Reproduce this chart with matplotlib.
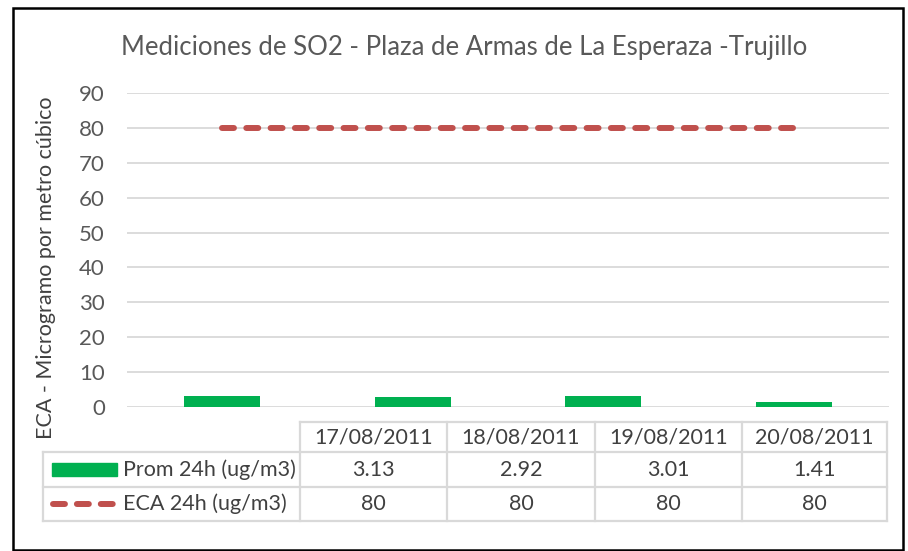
import matplotlib.pyplot as plt
from matplotlib.lines import Line2D
from matplotlib.patches import Rectangle

# datos
fechas = ['17/08/2011', '18/08/2011', '19/08/2011', '20/08/2011']
prom_24h = [3.13, 2.92, 3.01, 1.41]
eca_24h = [80, 80, 80, 80]
series = ['Prom 24h (ug/m3)', 'ECA 24h (ug/m3)']
yticks = [0, 10, 20, 30, 40, 50, 60, 70, 80, 90]

verde = '#00b050'
rojo = '#c0504d'
gris = '#595959'
rejilla = '#d9d9d9'

plt.rcParams['font.family'] = ['Lato', 'DejaVu Sans']

W, H = 908, 551
fig = plt.figure(figsize=(W / 100, H / 100), dpi=100)


def fx(px):
    return px / W


def fy(py):
    return 1 - py / H


# area del grafico
ax = fig.add_axes([fx(127), fy(407), fx(889) - fx(127), fy(93) - fy(407)])
x = list(range(len(fechas)))
ax.bar(x, prom_24h, width=0.4, color=verde, zorder=3)
ax.plot(x, eca_24h, color=rojo, lw=4.3, dashes=(2, 2.07),
        dash_capstyle='round', zorder=4)
ax.set_xlim(-0.5, len(fechas) - 0.5)
ax.set_ylim(0, 90)
ax.set_yticks(yticks)
ax.set_xticks([])
ax.grid(axis='y', color=rejilla, lw=1.3, zorder=0)
for s in ax.spines.values():
    s.set_visible(False)
ax.tick_params(axis='y', length=0, pad=16, labelsize=16, labelcolor=gris)

fig.text(fx(464), fy(47), 'Mediciones de SO2 - Plaza de Armas de La Esperaza -Trujillo',
         ha='center', va='center', fontsize=18.5, color=gris)
fig.text(fx(46), fy(268), 'ECA - Microgramo por metro cúbico', rotation=90,
         ha='center', va='center', fontsize=15.5, color='#404040')

# tabla de datos
cols = [300, 447, 595, 742, 887]
filas = [422, 452, 487, 521]
lw_t = 1.6
for i, yy in enumerate(filas):
    x0 = cols[0] if i == 0 else 43
    fig.add_artist(Line2D([fx(x0), fx(cols[-1])], [fy(yy), fy(yy)], color=rejilla, lw=lw_t))
for xx in cols:
    fig.add_artist(Line2D([fx(xx), fx(xx)], [fy(filas[0]), fy(filas[-1])], color=rejilla, lw=lw_t))
fig.add_artist(Line2D([fx(43), fx(43)], [fy(filas[1]), fy(filas[-1])], color=rejilla, lw=lw_t))

filas_texto = [prom_24h, eca_24h]
for j, f in enumerate(fechas):
    xc = (cols[j] + cols[j + 1]) / 2
    fig.text(fx(xc), fy((filas[0] + filas[1]) / 2), f, ha='center', va='center',
             fontsize=15.5, color='#404040')
    for k, vals in enumerate(filas_texto):
        yc = (filas[k + 1] + filas[k + 2]) / 2
        v = vals[j]
        txt = f'{v:.2f}' if isinstance(v, float) else str(v)
        fig.text(fx(xc), fy(yc), txt, ha='center', va='center', fontsize=15.5, color='#404040')

# leyenda dentro de la tabla
y1 = (filas[1] + filas[2]) / 2
y2 = (filas[2] + filas[3]) / 2
fig.add_artist(Rectangle((fx(52), fy(y1 + 6.5)), fx(117) - fx(52), fy(y1 - 6.5) - fy(y1 + 6.5),
                         color=verde, transform=fig.transFigure))
fig.add_artist(Line2D([fx(53), fx(114)], [fy(y2), fy(y2)], color=rojo, lw=4.3,
                      dashes=(2, 2), dash_capstyle='round'))
fig.text(fx(123), fy(y1), series[0], ha='left', va='center', fontsize=15.5, color='#404040')
fig.text(fx(123), fy(y2), series[1], ha='left', va='center', fontsize=15.5, color='#404040')

# borde exterior
fig.add_artist(Rectangle((fx(13), fy(550)), fx(903) - fx(13), fy(8) - fy(550),
                         fill=False, ec='black', lw=1.8, transform=fig.transFigure))

fig.savefig('out.png', dpi=100)
